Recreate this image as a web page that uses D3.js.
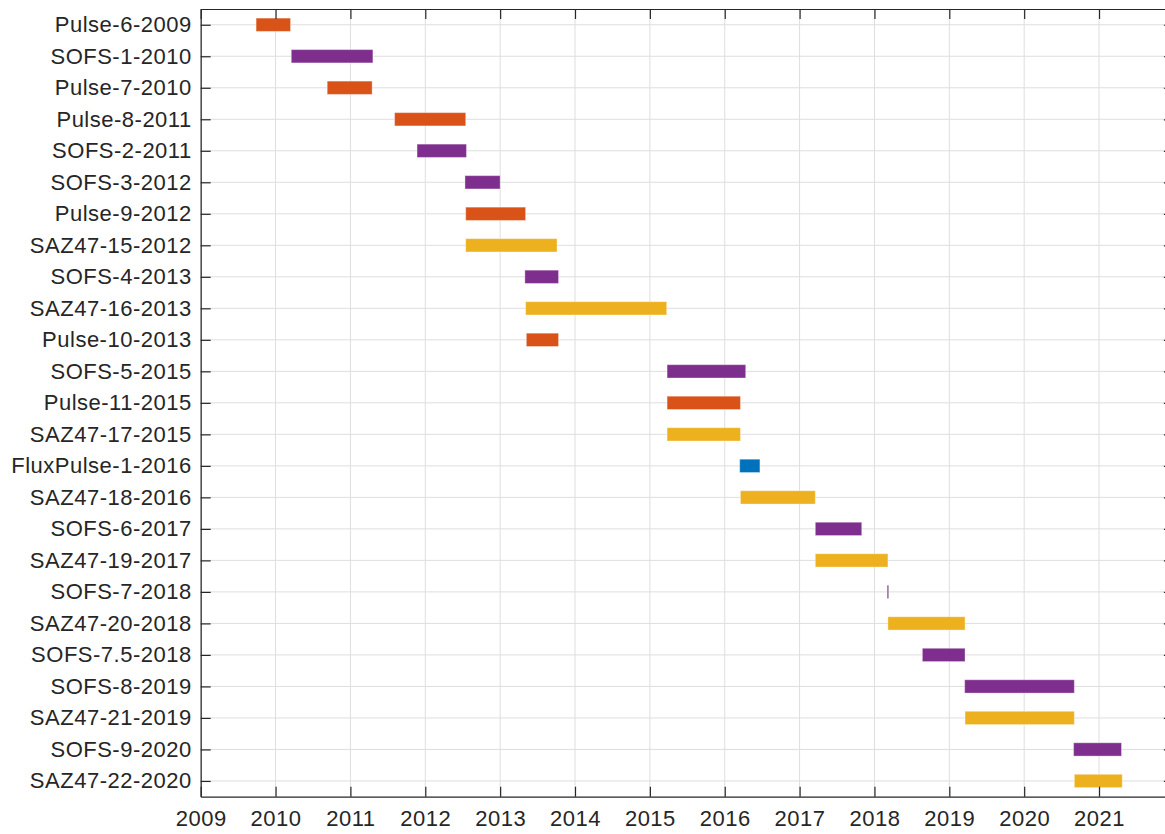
<!DOCTYPE html>
<html>
<head>
<meta charset="utf-8">
<script src="https://cdn.jsdelivr.net/npm/d3@7"></script>
<style>
  body { margin: 0; background: #fff; }
  text { font-family: "Liberation Sans", Arial, Helvetica, sans-serif; fill: #262626; }
</style>
</head>
<body>
<div id="vis"></div>
<script>
// deployments, top to bottom
const names = [
  'Pulse-6-2009', 'SOFS-1-2010', 'Pulse-7-2010', 'Pulse-8-2011', 'SOFS-2-2011',
  'SOFS-3-2012', 'Pulse-9-2012', 'SAZ47-15-2012', 'SOFS-4-2013', 'SAZ47-16-2013',
  'Pulse-10-2013', 'SOFS-5-2015', 'Pulse-11-2015', 'SAZ47-17-2015', 'FluxPulse-1-2016',
  'SAZ47-18-2016', 'SOFS-6-2017', 'SAZ47-19-2017', 'SOFS-7-2018', 'SAZ47-20-2018',
  'SOFS-7.5-2018', 'SOFS-8-2019', 'SAZ47-21-2019', 'SOFS-9-2020', 'SAZ47-22-2020'
];
// deployment / recovery as decimal years
const starts = [
  2009.74, 2010.21, 2010.69, 2011.59, 2011.89,
  2012.53, 2012.54, 2012.54, 2013.33, 2013.34,
  2013.35, 2015.23, 2015.23, 2015.23, 2016.20,
  2016.21, 2017.21, 2017.21, 2018.17, 2018.18,
  2018.64, 2019.205, 2019.21, 2020.66, 2020.67
];
const ends = [
  2010.20, 2011.30, 2011.29, 2012.54, 2012.55,
  2013.00, 2013.34, 2013.76, 2013.78, 2015.225,
  2013.78, 2016.28, 2016.21, 2016.21, 2016.47,
  2017.21, 2017.83, 2018.18, 2018.19, 2019.21,
  2019.21, 2020.67, 2020.67, 2021.30, 2021.31
];
const yearTicks = d3.range(2009, 2022);

const typeColor = {
  'Pulse': '#D95319',
  'SOFS': '#7E2F8E',
  'SAZ47': '#EDB120',
  'FluxPulse': '#0072BD'
};

const width = 1165;
const height = 834;
const box = { left: 200.7, right: 1173.9, top: 9, bottom: 796.7 };

const svg = d3.select('#vis')
              .append('svg')
                .attr('width', width)
                .attr('height', height);

const x = d3.scaleLinear()
            .domain([2009, 2022])
            .range([box.left, box.right]);
const y = d3.scaleLinear()
            .domain([0.5, names.length + 0.5])
            .range([box.top, box.bottom]);
const rows = d3.range(1, names.length + 1);
const barH = 13.3;

// grid
const grid = svg.append('g').attr('stroke', '#dedede').attr('stroke-width', 1);
grid.selectAll('.vgrid')
    .data(yearTicks)
    .join('line')
      .attr('x1', d => x(d)).attr('x2', d => x(d))
      .attr('y1', box.top).attr('y2', box.bottom);
grid.selectAll('.hgrid')
    .data(rows)
    .join('line')
      .attr('y1', d => y(d)).attr('y2', d => y(d))
      .attr('x1', box.left).attr('x2', box.right);

// bars
svg.append('g')
  .selectAll('rect')
  .data(names)
  .join('rect')
    .attr('x', (d, i) => x(starts[i]))
    .attr('width', (d, i) => Math.max(1.5, x(ends[i]) - x(starts[i])))
    .attr('y', (d, i) => y(i + 1) - barH / 2)
    .attr('height', barH)
    .attr('fill', d => typeColor[d.split('-')[0]])
    .attr('stroke', '#fff')
    .attr('stroke-opacity', 0.35)
    .attr('stroke-width', 1);

// axes
const tickLen = 10;
const fontSize = '22px';

const xAxis = svg.append('g')
    .attr('transform', 'translate(0,' + box.bottom + ')')
    .call(d3.axisBottom(x).tickValues(yearTicks).tickFormat(d3.format('d'))
            .tickSizeInner(-tickLen).tickSizeOuter(0).tickPadding(14));
const xTop = svg.append('g')
    .attr('transform', 'translate(0,' + box.top + ')')
    .call(d3.axisTop(x).tickValues(yearTicks).tickFormat('')
            .tickSizeInner(-tickLen).tickSizeOuter(0));
const yAxis = svg.append('g')
    .attr('transform', 'translate(' + box.left + ',0)')
    .call(d3.axisLeft(y).tickValues(rows).tickFormat(d => names[d - 1])
            .tickSizeInner(-tickLen).tickSizeOuter(0).tickPadding(9));
const yRight = svg.append('g')
    .attr('transform', 'translate(' + box.right + ',0)')
    .call(d3.axisRight(y).tickValues(rows).tickFormat('')
            .tickSizeInner(-tickLen).tickSizeOuter(0));

[xAxis, xTop, yAxis, yRight].forEach(g => {
  g.select('.domain').attr('stroke', '#262626').attr('stroke-width', 1.2);
  g.selectAll('.tick line').attr('stroke', '#262626').attr('stroke-width', 1.2);
  g.selectAll('text')
    .attr('fill', '#262626')
    .style('font-family', '"Liberation Sans", Arial, Helvetica, sans-serif')
    .style('font-size', fontSize)
    .style('letter-spacing', '0.5px');
});
</script>
</body>
</html>
